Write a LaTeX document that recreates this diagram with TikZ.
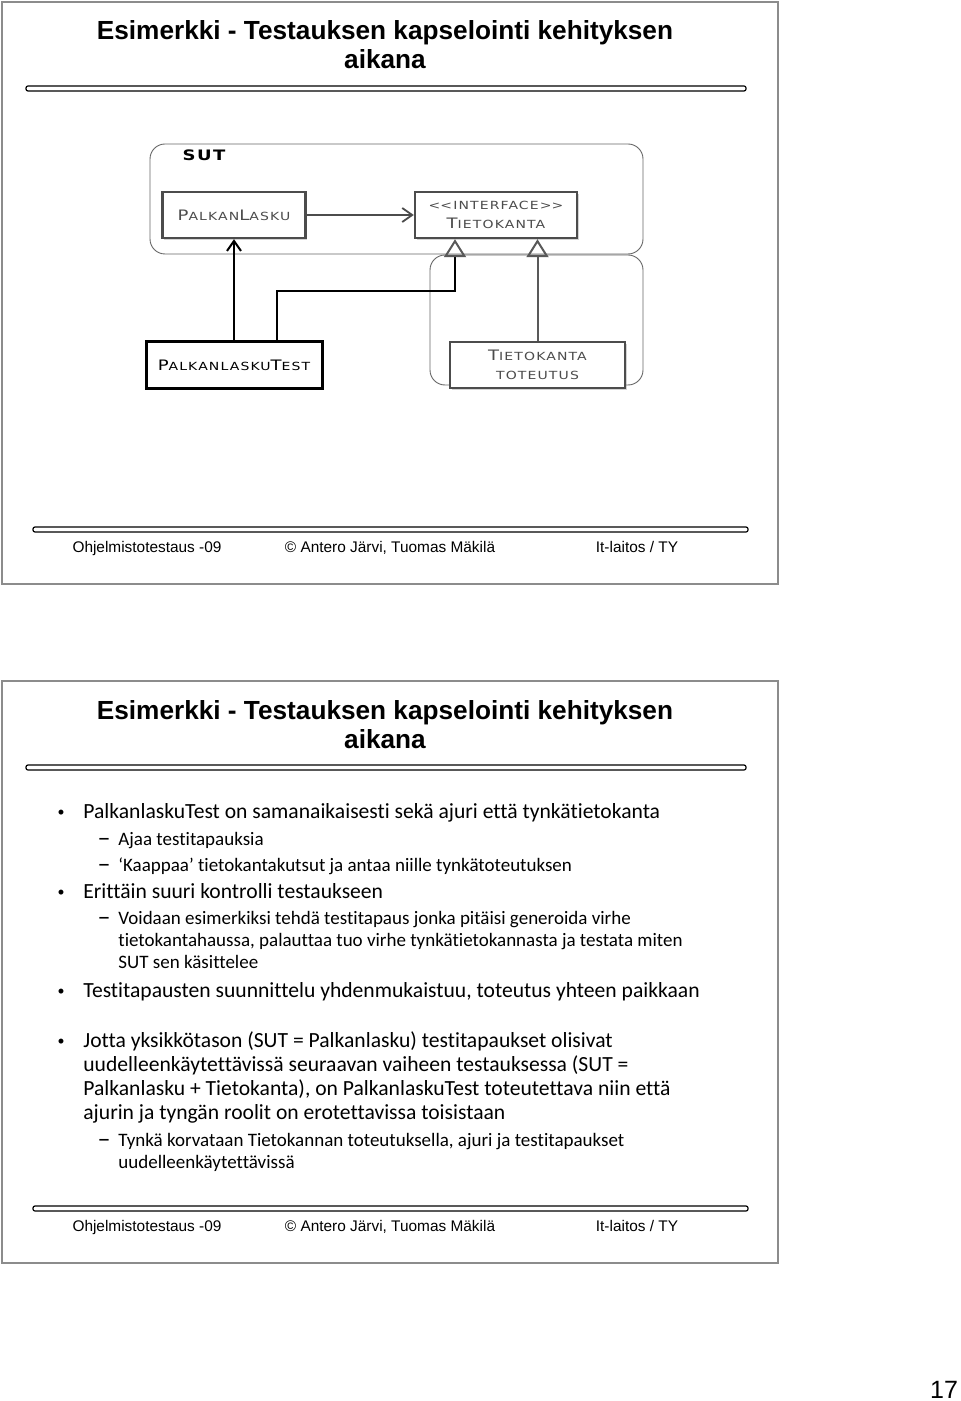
\documentclass[tikz,border=0pt]{standalone}
\usepackage{fontspec}
\usetikzlibrary{arrows.meta,shadows}
\newfontfamily\arialfont{Liberation Sans}
\newfontfamily\gillfont{Carlito}[Ligatures=NoCommon]
\newfontfamily\cpfont{DejaVu Sans}[FakeStretch=1.25,LetterSpace=10]
\newcommand{\capup}[1]{{\fontsize{7.2}{9}\selectfont #1}}

\begin{document}
\begin{tikzpicture}[x=0.5pt,y=-0.5pt,
  slideframe/.style={draw=black!45,line width=0.7pt},
  rulebar/.style={draw=black,line width=0.6pt,rounded corners=1pt,fill=white},
  ttl/.style={font=\arialfont\bfseries\fontsize{13.1}{15}\selectfont,anchor=base},
  foot/.style={font=\arialfont\fontsize{7.7}{9}\selectfont,anchor=base},
  lvla/.style={font=\gillfont\fontsize{10.8}{12}\selectfont,anchor=base west,inner sep=0pt},
  lvlb/.style={font=\gillfont\fontsize{9.5}{11}\selectfont,anchor=base west,inner sep=0pt},
  grp/.style={draw=black!60,line width=0.45pt,rounded corners=7.5pt},
  umlbox/.style={draw=black!70,line width=1.2pt,fill=white,inner sep=0pt,
    minimum height=23pt,align=center,text=black!70,
    font=\cpfont\fontsize{5.6}{9.5}\selectfont,
    drop shadow={opacity=0.35,shadow xshift=0.8pt,shadow yshift=-1.2pt}},
  assoc/.style={draw=black!70,line width=0.9pt,-{Straight Barb[length=5pt,width=7pt]}},
  dep/.style={draw=black,line width=1pt,-{Straight Barb[length=5pt,width=7pt]}},
  real/.style={draw=black,line width=1pt,-{Triangle[open,length=9pt,width=11pt,color=black!65]}}]
  \useasboundingbox (0,0) rectangle (960,1401);

  % both slides: frame, title, rules, footer
  \foreach \oy in {0,679}{
    \draw[slideframe] (2,2+\oy) rectangle (778,584+\oy);
    \node[ttl] (ta\oy) at (385,40+\oy) {Esimerkki - Testauksen kapselointi kehityksen};
    \node[ttl] (tb\oy) at (385,69+\oy) {aikana};
    \draw[rulebar] (26,86+\oy) rectangle (746,91+\oy);
    \draw[rulebar] (33,527+\oy) rectangle (748,532+\oy);
    \node[foot] (fa\oy) at (147,552+\oy) {Ohjelmistotestaus -09};
    \node[foot] (fb\oy) at (390,552+\oy) {© Antero Järvi, Tuomas Mäkilä};
    \node[foot] (fc\oy) at (637,552+\oy) {It-laitos / TY};
  }

  % diagram
  \node[grp,minimum width=246.5pt,minimum height=55pt] (sut) at (396.5,199) {};
  \node[grp,minimum width=106.5pt,minimum height=65pt] (impl) at (536.5,320) {};
  \node[font=\cpfont\bfseries\fontsize{7.2}{8}\selectfont,inner sep=0pt] (sutlbl) at (204,155) {SUT};

  \node[umlbox,minimum width=71.5pt] (pl) at (234,215) {\capup{P}ALKAN\capup{L}ASKU};
  \node[umlbox,minimum width=81pt] (iface) at (496,215) {<\kern0pt<INTERFACE>\kern0pt>\\\capup{T}IETOKANTA};
  \node[umlbox,minimum width=88pt,draw=black,text=black,line width=1.5pt] (plt) at (234,365) {\capup{P}ALKANLASKU\capup{T}EST};
  \node[umlbox,minimum width=87.5pt] (tt) at (537.5,365) {\capup{T}IETOKANTA\\TOTEUTUS};

  \draw[assoc] (pl) -- (iface);
  \draw[dep] (plt) -- (pl);
  \draw[real] ([xshift=21.5pt]plt.north) |- ([xshift=-20.5pt,yshift=-26pt]iface.south) -- ([xshift=-20.5pt]iface.south);
  \draw[real,draw=black!65] (tt.north) -- (tt.north |- iface.south);

  % bullets
  \foreach \yy in {818,898,997,1047}
    \node[font=\gillfont\fontsize{7}{8}\selectfont,anchor=base,inner sep=0pt] (d\yy) at (61,\yy-2) {•};
  \foreach \yy in {845,871,924,1146}
    \node[font=\gillfont\fontsize{13}{14}\selectfont,anchor=base,inner sep=0pt] (s\yy) at (104,\yy+1) {–};

  \node[lvla] (l1) at (83,818) {PalkanlaskuTest on samanaikaisesti sekä ajuri että tynkätietokanta};
  \node[lvlb] (l2) at (118,845) {Ajaa testitapauksia};
  \node[lvlb] (l3) at (118,871) {‘Kaappaa’ tietokantakutsut ja antaa niille tynkätoteutuksen};
  \node[lvla] (l4) at (83,898) {Erittäin suuri kontrolli testaukseen};
  \node[lvlb] (l5) at (118,924) {Voidaan esimerkiksi tehdä testitapaus jonka pitäisi generoida virhe};
  \node[lvlb] (l6) at (118,946) {tietokantahaussa, palauttaa tuo virhe tynkätietokannasta ja testata miten};
  \node[lvlb] (l7) at (118,968) {SUT sen käsittelee};
  \node[lvla] (l8) at (83,997) {Testitapausten suunnittelu yhdenmukaistuu, toteutus yhteen paikkaan};
  \node[lvla] (l9) at (83,1047) {Jotta yksikkötason (SUT = Palkanlasku) testitapaukset olisivat};
  \node[lvla] (l10) at (83,1071) {uudelleenkäytettävissä seuraavan vaiheen testauksessa (SUT =};
  \node[lvla] (l11) at (83,1095) {Palkanlasku + Tietokanta), on PalkanlaskuTest toteutettava niin että};
  \node[lvla] (l12) at (83,1119) {ajurin ja tyngän roolit on erotettavissa toisistaan};
  \node[lvlb] (l13) at (118,1146) {Tynkä korvataan Tietokannan toteutuksella, ajuri ja testitapaukset};
  \node[lvlb] (l14) at (118,1168) {uudelleenkäytettävissä};

  \node[font=\arialfont\fontsize{12.5}{14}\selectfont,anchor=base] (pnum) at (944,1398) {17};
\end{tikzpicture}
\end{document}
